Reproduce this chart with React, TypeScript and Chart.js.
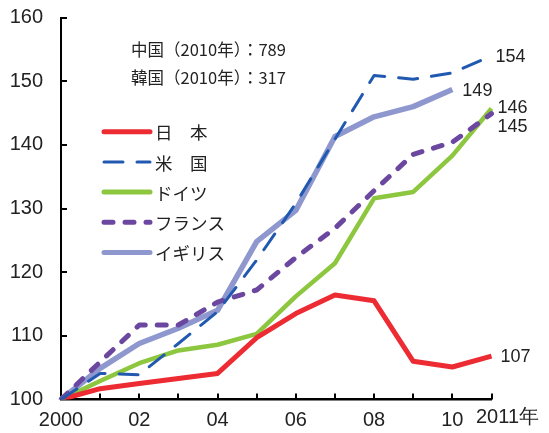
import React, { useEffect, useRef } from 'react';
import { Chart, registerables } from 'chart.js';

Chart.register(...registerables);

const years = [2000, 2001, 2002, 2003, 2004, 2005, 2006, 2007, 2008, 2009, 2010, 2011];
const yTicks = [100, 110, 120, 130, 140, 150, 160];

const japan = [100, 101.7, 102.5, 103.3, 104.1, 109.7, 113.5, 116.4, 115.5, 106.0, 105.1, 106.8];
const usa = [100, 104.1, 103.9, 108.8, 113.8, 121.9, 130.8, 140.9, 150.9, 150.3, 151.3, 154.0];
const germany = [100, 102.9, 105.7, 107.7, 108.6, 110.3, 116.2, 121.4, 131.6, 132.6, 138.3, 145.7];
const france = [100, 105.9, 111.7, 111.7, 115.3, 117.2, 122.3, 126.9, 132.8, 138.5, 140.4, 144.9];
const uk = [100, 104.9, 108.8, 111.2, 114.0, 124.8, 129.7, 141.3, 144.4, 146.0, 148.7, null];

const seriesNames = ['日　本', '米　国', 'ドイツ', 'フランス', 'イギリス'];
const endLabels = ['107', '154', '146', '145', '149'];
const notes = ['中国（2010年）：789', '韓国（2010年）：317'];
const lastYearLabel = '2011年';

const NUM_FONT = '"Liberation Sans", Arial, sans-serif';
const JP_FONT = '"Noto Sans CJK JP", "Noto Sans", sans-serif';

const colors = ['#EC2B33', '#2159B0', '#8DC63F', '#6B47A0', '#8E97CE'];
const widths = [5, 3, 4.5, 5, 5.5];
const legendWidths = [5, 3, 5, 5, 5];
const dashes: number[][] = [[], [19, 14], [], [9, 12], []];
const endOffsets = [[9, 1], [4, 1], [6, -1], [6, 13], [10, 2]];

const overlay = {
  id: 'overlay',
  afterDraw(chart: any) {
    const ctx: CanvasRenderingContext2D = chart.ctx;
    const xs = chart.scales.x;
    const ys = chart.scales.y;
    ctx.save();
    // inner tick marks
    ctx.strokeStyle = '#000';
    ctx.lineWidth = 2;
    ctx.setLineDash([]);
    ctx.beginPath();
    for (let i = 1; i < years.length; i++) {
      const px = Math.round(xs.getPixelForValue(i));
      ctx.moveTo(px, ys.bottom);
      ctx.lineTo(px, ys.bottom - 6);
    }
    for (let k = 1; k < yTicks.length; k++) {
      const py = Math.round(ys.getPixelForValue(yTicks[k]));
      ctx.moveTo(xs.left, py);
      ctx.lineTo(xs.left + 6, py);
    }
    ctx.stroke();

    // last year label
    ctx.fillStyle = '#222';
    ctx.font = `20px ${NUM_FONT}`;
    ctx.textAlign = 'left';
    ctx.textBaseline = 'middle';
    ctx.fillText(lastYearLabel, xs.getPixelForValue(years.length - 1) - 15.5, 417.5);

    // end value labels
    ctx.font = `18px ${NUM_FONT}`;
    chart.data.datasets.forEach((ds: any, i: number) => {
      const meta = chart.getDatasetMeta(i);
      let idx = ds.data.length - 1;
      while (idx > 0 && ds.data[idx] == null) idx--;
      const pt = meta.data[idx];
      ctx.fillText(endLabels[i], pt.x + endOffsets[i][0], pt.y + endOffsets[i][1]);
    });

    // notes
    ctx.font = `16.5px ${JP_FONT}`;
    ctx.fillText(notes[0], 131, 50);
    ctx.fillText(notes[1], 131, 78);

    // legend
    chart.data.datasets.forEach((ds: any, i: number) => {
      const ly = 131.7 + 30.2 * i;
      ctx.strokeStyle = colors[i];
      ctx.lineWidth = legendWidths[i];
      ctx.lineCap = 'round';
      ctx.setLineDash(dashes[i]);
      ctx.beginPath();
      ctx.moveTo(104, ly);
      ctx.lineTo(150, ly);
      ctx.stroke();
      ctx.setLineDash([]);
      ctx.fillStyle = '#222';
      ctx.font = `17.5px ${JP_FONT}`;
      ctx.fillText(seriesNames[i], 155, ly + 1);
    });
    ctx.restore();
  },
};

export default function App() {
  const ref = useRef<HTMLCanvasElement | null>(null);
  useEffect(() => {
    if (!ref.current) return;
    const data = [japan, usa, germany, france, uk];
    const orders = [3, 1, 4, 2, 5];
    const chart = new Chart(ref.current, {
      type: 'line',
      data: {
        labels: years.map(String),
        datasets: data.map((d, i) => ({
          label: seriesNames[i],
          data: d,
          borderColor: colors[i],
          backgroundColor: colors[i],
          borderWidth: widths[i],
          borderDash: dashes[i],
          borderCapStyle: dashes[i].length ? 'round' : 'butt',
          borderJoinStyle: 'round',
          pointRadius: 0,
          tension: 0,
          fill: false,
          spanGaps: false,
          order: orders[i],
        })),
      },
      options: {
        responsive: false,
        animation: false,
        layout: { padding: { top: 17.5, right: 57.5, left: 0, bottom: 0 } },
        plugins: { legend: { display: false }, tooltip: { enabled: false } },
        scales: {
          x: {
            type: 'category',
            offset: false,
            grid: { display: false, drawTicks: false },
            border: { display: true, color: '#000', width: 2.5 },
            afterFit: (s: any) => { s.height = 33.5; s.paddingLeft = 0; s.paddingRight = 0; },
            ticks: {
              autoSkip: false,
              maxRotation: 0,
              padding: 9,
              color: '#222',
              font: { family: NUM_FONT, size: 20 },
              callback: (_v: any, i: number) =>
                i % 2 === 0 && i < years.length - 1
                  ? i === 0 ? String(years[i]) : String(years[i] % 100).padStart(2, '0')
                  : '',
            },
          },
          y: {
            min: 100,
            max: 160,
            grid: { display: false, drawTicks: false },
            border: { display: true, color: '#000', width: 2 },
            afterFit: (s: any) => { s.width = 61; s.paddingTop = 0; s.paddingBottom = 0; },
            ticks: {
              stepSize: 10,
              padding: 18,
              color: '#222',
              font: { family: NUM_FONT, size: 20 },
            },
          },
        },
      },
      plugins: [overlay],
    } as any);
    return () => chart.destroy();
  }, []);
  return (
    <div style={{ position: 'fixed', left: 0, top: 0, width: 549, height: 433, background: '#fff' }}>
      <canvas ref={ref} width={549} height={433} style={{ display: 'block' }} />
    </div>
  );
}
